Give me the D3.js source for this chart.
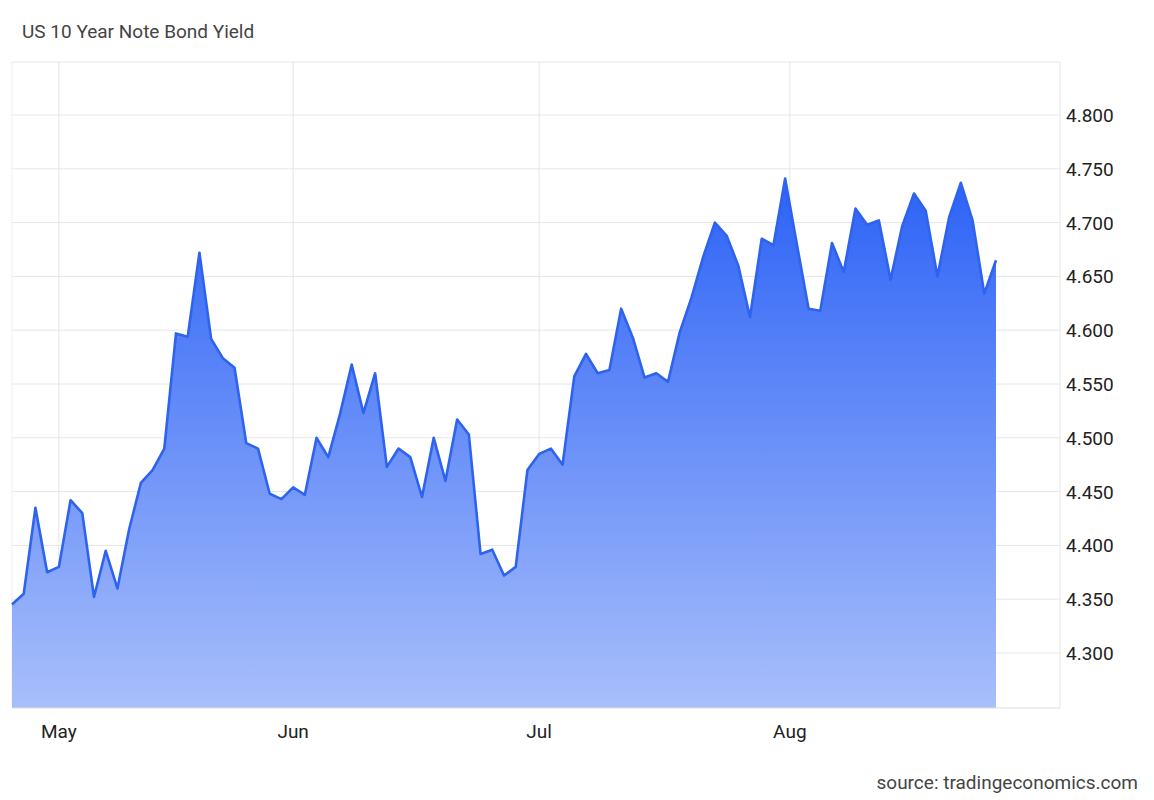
<!DOCTYPE html><html><head><meta charset="utf-8">
<script src="https://cdn.jsdelivr.net/npm/d3@7"></script>
<style>body{margin:0;background:#fff;font-family:Roboto,"Open Sans",sans-serif}</style></head><body>
<svg id="c" width="1154" height="800"></svg>
<script>
const values=[4.345,4.355,4.435,4.375,4.380,4.442,4.430,4.352,4.395,4.360,4.415,4.458,4.470,4.490,4.597,4.594,4.672,4.592,4.574,4.565,4.495,4.490,4.448,4.443,4.454,4.447,4.500,4.482,4.522,4.568,4.523,4.560,4.473,4.490,4.482,4.445,4.500,4.460,4.517,4.503,4.392,4.396,4.372,4.380,4.470,4.485,4.490,4.475,4.557,4.578,4.560,4.563,4.620,4.593,4.556,4.560,4.552,4.598,4.630,4.668,4.700,4.688,4.660,4.612,4.685,4.679,4.741,4.680,4.620,4.618,4.681,4.654,4.713,4.698,4.702,4.647,4.697,4.727,4.711,4.650,4.705,4.737,4.702,4.634,4.665];
const monthLabels=["May","Jun","Jul","Aug"];
const monthIdx=[4,24,45,66.4];
const yTicks=[4.3,4.35,4.4,4.45,4.5,4.55,4.6,4.65,4.7,4.75,4.8];
const svg=d3.select("#c");
const L=12,R=1060,T=62,B=708;
const x=d3.scaleLinear().domain([0,values.length-1]).range([L,L+(996-L)]);
const y=d3.scaleLinear().domain([4.3,4.8]).range([653,115]);
const defs=svg.append("defs");
const g=defs.append("linearGradient").attr("id","gr").attr("x1",0).attr("y1",0).attr("x2",0).attr("y2",1);
g.append("stop").attr("offset","0%").attr("stop-color","#2c62f6");
g.append("stop").attr("offset","100%").attr("stop-color","#a9bffb");
// grid
svg.append("g").selectAll("line").data(yTicks).join("line").attr("x1",L).attr("x2",R).attr("y1",d=>y(d)).attr("y2",d=>y(d)).attr("stroke","#e6e6e6");
svg.append("line").attr("x1",L).attr("x2",R).attr("y1",T).attr("y2",T).attr("stroke","#e6e6e6");
svg.append("g").selectAll("line").data(monthIdx).join("line").attr("x1",d=>x(d)).attr("x2",d=>x(d)).attr("y1",T).attr("y2",B).attr("stroke","#e6e6e6");
svg.append("line").attr("x1",R).attr("x2",R).attr("y1",T).attr("y2",B).attr("stroke","#e6e6e6");
svg.append("line").attr("x1",L).attr("x2",L).attr("y1",T).attr("y2",B).attr("stroke","#eeeeee");
// area
svg.append("path").datum(values).attr("fill","url(#gr)").attr("d",d3.area().x((d,i)=>x(i)).y0(B).y1(d=>y(d)));
svg.append("path").datum(values).attr("fill","none").attr("stroke","#2e63ee").attr("stroke-width",2.6).attr("stroke-linejoin","round").attr("d",d3.line().x((d,i)=>x(i)).y(d=>y(d)));
svg.append("line").attr("x1",L).attr("x2",R).attr("y1",B).attr("y2",B).attr("stroke","#dcdcdc");
// y axis labels
svg.append("g").selectAll("text").data(yTicks).join("text").attr("x",1066).attr("y",d=>y(d)+7).attr("font-size",19).attr("fill","#222").text(d=>d.toFixed(3));
// x labels
svg.append("g").selectAll("text").data(monthIdx).join("text").attr("x",d=>x(d)).attr("y",738).attr("text-anchor","middle").attr("font-size",19).attr("fill","#222").text((d,i)=>monthLabels[i]);
svg.append("text").attr("x",22).attr("y",38).attr("font-size",19).attr("fill","#444").text("US 10 Year Note Bond Yield");
svg.append("text").attr("x",1138).attr("y",789).attr("text-anchor","end").attr("font-size",19).attr("fill","#444").text("source: tradingeconomics.com");
</script></body></html>
